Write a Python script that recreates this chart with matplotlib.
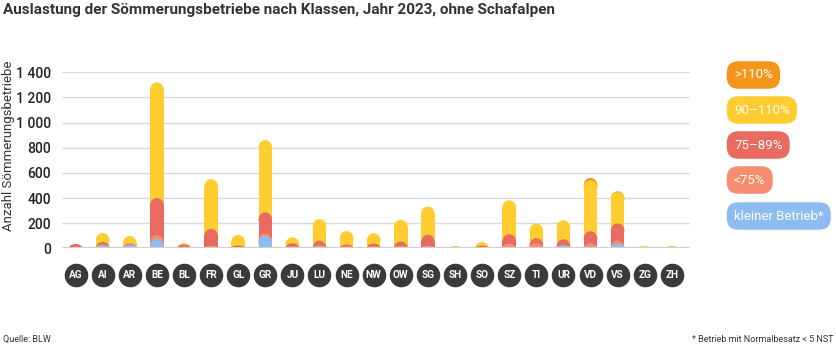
import matplotlib
matplotlib.use("Agg")
import matplotlib.pyplot as plt
from matplotlib.patches import Rectangle, Ellipse
from matplotlib.transforms import blended_transform_factory
import numpy as np

plt.rcParams['font.family'] = ['Roboto', 'DejaVu Sans']

# Kantone
kantone = ['AG', 'AI', 'AR', 'BE', 'BL', 'FR', 'GL', 'GR', 'JU', 'LU', 'NE',
           'NW', 'OW', 'SG', 'SH', 'SO', 'SZ', 'TI', 'UR', 'VD', 'VS', 'ZG', 'ZH']

# Anzahl Betriebe je Klasse (geschaetzt aus der Grafik)
kleiner = [0, 25, 28, 75, 0, 12, 10, 100, 10, 15, 10, 10, 12, 12, 0, 0, 12, 10, 22, 15, 38, 0, 0]
unter75 = [0, 5, 2, 30, 0, 8, 0, 20, 5, 10, 5, 8, 8, 10, 0, 0, 25, 30, 5, 25, 25, 0, 0]
k75_89 = [35, 20, 8, 295, 30, 135, 12, 165, 25, 35, 15, 20, 35, 85, 0, 22, 75, 40, 45, 95, 135, 0, 0]
k90_110 = [0, 72, 60, 920, 10, 395, 85, 575, 48, 172, 107, 82, 172, 225, 18, 28, 270, 117, 152, 405, 250, 18, 18]
ueber110 = [0, 0, 0, 0, 0, 0, 0, 0, 0, 0, 0, 0, 0, 0, 0, 0, 0, 0, 0, 20, 5, 0, 0]

klassen = ['kleiner Betrieb*', '<75%', '75–89%', '90–110%', '>110%']
farben = ['#8dbcf0', '#f68d70', '#e96a5e', '#ffcd30', '#f5961c']
serien = [kleiner, unter75, k75_89, k90_110, ueber110]

n = len(kantone)

fig = plt.figure(figsize=(8.36, 3.44), dpi=100)
W, H = 836, 344
ax = fig.add_axes([62 / W, 1 - 248.3 / H, 628 / W, 176 / H])
ax.set_xlim(-0.5, n - 1 + 0.67)
ax.set_ylim(0, 1400)

bw = 0.5
ry = 7.1 * 1400 / 176   # Radius der Rundung in y-Einheiten

kum = np.cumsum(np.array(serien), axis=0)
x = np.arange(n)
# von hinten nach vorne zeichnen: groesste Summe zuerst
for k in range(len(klassen) - 1, -1, -1):
    for i in x:
        top = kum[k][i]
        if serien[k][i] <= 0 or top <= 0:
            continue
        r = min(ry, top)
        if top - r > 0:
            ax.add_patch(Rectangle((i - bw / 2, 0), bw, top - r, fc=farben[k], ec='none', zorder=2))
        ax.add_patch(Ellipse((i, top - r), bw, 2 * r, fc=farben[k], ec='none', zorder=2))

ax.set_yticks(range(0, 1401, 200))
ax.set_yticklabels(['0', '200', '400', '600', '800', '1 000', '1 200', '1 400'],
                   fontsize=10, fontweight='medium', color='#222222')
ax.tick_params(axis='y', length=0, pad=8)
ax.set_xticks([])
ax.grid(axis='y', color='#d9d9d9', lw=1)
ax.set_axisbelow(True)
for s in ax.spines.values():
    s.set_visible(False)
ax.axhline(0, color='#d0d0d0', lw=1.5, zorder=3)

# Kantonskreise
tr = blended_transform_factory(ax.transData, ax.transAxes)
ax.scatter(x, [-26.7 / 176] * n, s=255, color='#3a3a3a', transform=tr, clip_on=False, zorder=4)
for i, kt in enumerate(kantone):
    ax.text(i, -26.7 / 176, kt, transform=tr, ha='center', va='center',
            color='white', fontsize=7.2, fontweight='bold', zorder=5)

ax.set_ylabel('Anzahl Sömmerungsbetriebe', fontsize=9.5, color='#333333')
ax.yaxis.set_label_coords(-47 / 628, 0.58)

fig.text(3 / W, 1 - 10 / H, 'Auslastung der Sömmerungsbetriebe nach Klassen, Jahr 2023, ohne Schafalpen',
         fontsize=11, fontweight='bold', color='#333333', ha='left', va='center')

# Legende als Pillen
leg_y = [75, 110, 145, 180, 216]
for lbl, col, yy in zip(klassen[::-1], farben[::-1], leg_y):
    fig.text(734 / W, 1 - yy / H, lbl, fontsize=9.5, color='white', ha='left', va='center',
             bbox=dict(boxstyle='round,pad=0.55,rounding_size=0.9', fc=col, ec='none'))

fig.text(3 / W, 1 - 339 / H, 'Quelle: BLW', fontsize=6.5, color='#333333', ha='left', va='center')
fig.text(692 / W, 1 - 339 / H, '* Betrieb mit Normalbesatz < 5 NST', fontsize=6.5, color='#333333',
         ha='left', va='center')

fig.savefig('out.png', dpi=100)
